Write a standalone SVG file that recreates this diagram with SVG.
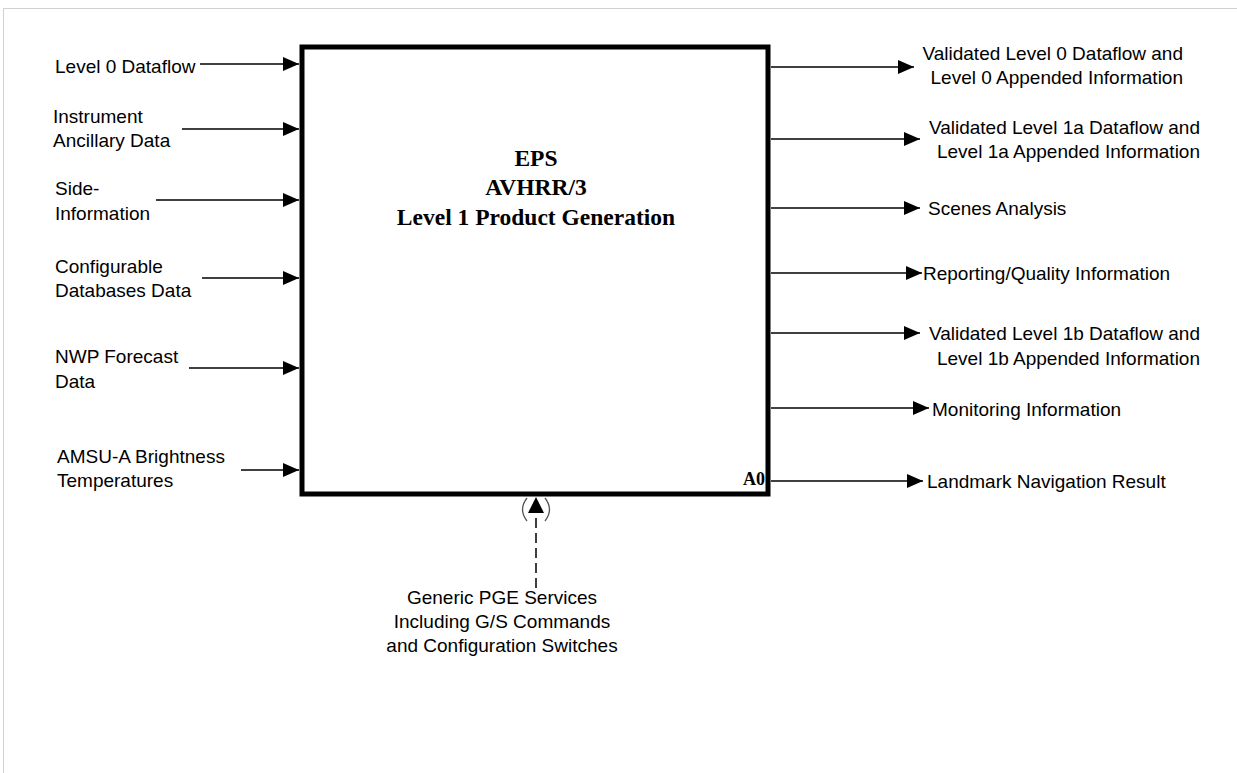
<svg xmlns="http://www.w3.org/2000/svg" width="1237" height="773" viewBox="0 0 1237 773">
<style>
.lbl{font-family:"Liberation Sans",Arial,sans-serif;font-size:19px;fill:#000}
.ttl{font-family:"Liberation Serif","Times New Roman",serif;font-size:23.5px;font-weight:bold;fill:#000}
.a0{font-family:"Liberation Serif","Times New Roman",serif;font-size:18px;font-weight:bold;fill:#000}
.c{stroke:#000;stroke-width:1.5;fill:none}
</style>
<defs>
<marker id="ah" viewBox="0 0 16 14" refX="16" refY="7" markerWidth="16" markerHeight="14" markerUnits="userSpaceOnUse" orient="auto">
<path d="M0,0 L16,7 L0,14 z" fill="#000" stroke="none"/>
</marker>
</defs>
<rect width="1237" height="773" fill="#fff"/>
<path d="M3.5,773 V8.5 H1237" fill="none" stroke="#d0d0d0" stroke-width="1"/>

<g id="A0">
<rect x="302" y="47" width="466" height="447" fill="#fff" stroke="#000" stroke-width="5"/>
<text class="ttl" x="536" y="166" text-anchor="middle">EPS</text>
<text class="ttl" x="536" y="195" text-anchor="middle">AVHRR/3</text>
<text class="ttl" x="536" y="225" text-anchor="middle">Level 1 Product Generation</text>
<text class="a0" x="765" y="485" text-anchor="end">A0</text>
</g>

<g id="connectors">
<line class="c" x1="200" y1="64" x2="299" y2="64" marker-end="url(#ah)"/>
<line class="c" x1="182" y1="129" x2="299" y2="129" marker-end="url(#ah)"/>
<line class="c" x1="156" y1="200" x2="299" y2="200" marker-end="url(#ah)"/>
<line class="c" x1="202" y1="278" x2="299" y2="278" marker-end="url(#ah)"/>
<line class="c" x1="189" y1="368" x2="299" y2="368" marker-end="url(#ah)"/>
<line class="c" x1="241" y1="470" x2="299" y2="470" marker-end="url(#ah)"/>

<line class="c" x1="771" y1="67" x2="914" y2="67" marker-end="url(#ah)"/>
<line class="c" x1="771" y1="139" x2="920" y2="139" marker-end="url(#ah)"/>
<line class="c" x1="771" y1="208" x2="920" y2="208" marker-end="url(#ah)"/>
<line class="c" x1="771" y1="273" x2="922" y2="273" marker-end="url(#ah)"/>
<line class="c" x1="771" y1="333" x2="920" y2="333" marker-end="url(#ah)"/>
<line class="c" x1="771" y1="408" x2="929" y2="408" marker-end="url(#ah)"/>
<line class="c" x1="771" y1="481" x2="923" y2="481" marker-end="url(#ah)"/>

<line class="c" x1="536" y1="588" x2="536" y2="513" stroke-dasharray="10,5"/>
<polygon points="536,497 544,513 528,513" fill="#000"/>
<path d="M527,498 Q518,509.5 527,521" fill="none" stroke="#555" stroke-width="1.3"/>
<path d="M545,498 Q554,509.5 545,521" fill="none" stroke="#555" stroke-width="1.3"/>
</g>

<g id="in1"><text class="lbl" x="55" y="73">Level 0 Dataflow</text></g>
<g id="in2"><text class="lbl" x="53" y="123">Instrument</text><text class="lbl" x="53" y="147">Ancillary Data</text></g>
<g id="in3"><text class="lbl" x="55" y="195">Side-</text><text class="lbl" x="55" y="220">Information</text></g>
<g id="in4"><text class="lbl" x="55" y="273">Configurable</text><text class="lbl" x="55" y="297">Databases Data</text></g>
<g id="in5"><text class="lbl" x="55" y="363">NWP Forecast</text><text class="lbl" x="55" y="388">Data</text></g>
<g id="in6"><text class="lbl" x="57" y="463">AMSU-A Brightness</text><text class="lbl" x="57" y="487">Temperatures</text></g>

<g id="out1"><text class="lbl" x="1183" y="60" text-anchor="end">Validated Level 0 Dataflow and</text><text class="lbl" x="1183" y="84" text-anchor="end">Level 0 Appended Information</text></g>
<g id="out2"><text class="lbl" x="1200" y="134" text-anchor="end">Validated Level 1a Dataflow and</text><text class="lbl" x="1200" y="158" text-anchor="end">Level 1a Appended Information</text></g>
<g id="out3"><text class="lbl" x="928" y="215">Scenes Analysis</text></g>
<g id="out4"><text class="lbl" x="923" y="280">Reporting/Quality Information</text></g>
<g id="out5"><text class="lbl" x="1200" y="340" text-anchor="end">Validated Level 1b Dataflow and</text><text class="lbl" x="1200" y="365" text-anchor="end">Level 1b Appended Information</text></g>
<g id="out6"><text class="lbl" x="932" y="416">Monitoring Information</text></g>
<g id="out7"><text class="lbl" x="927" y="488">Landmark Navigation Result</text></g>

<g id="ctrl"><text class="lbl" x="502" y="604" text-anchor="middle">Generic PGE Services</text><text class="lbl" x="502" y="628" text-anchor="middle">Including G/S Commands</text><text class="lbl" x="502" y="652" text-anchor="middle">and Configuration Switches</text></g>
</svg>
